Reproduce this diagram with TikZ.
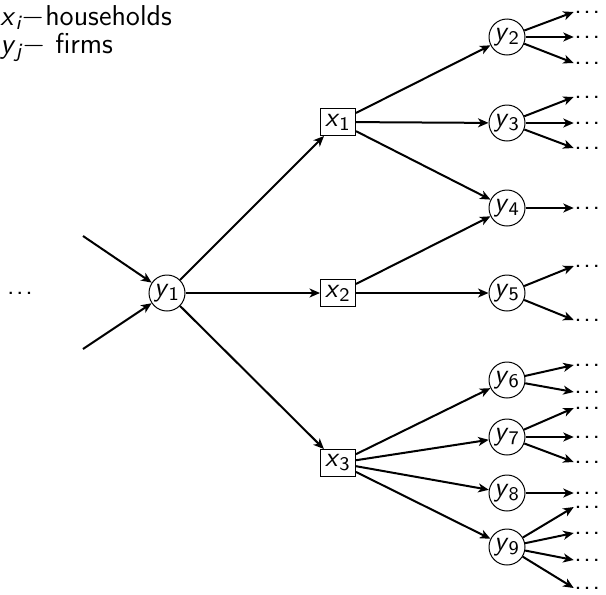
\documentclass[tikz,border=0pt]{standalone}
\usepackage{amsmath}
\usepackage{fontspec}
\usetikzlibrary{arrows.meta}

% variable with subscript, in sans oblique
\newcommand\svar[2]{\textsl{#1}$_{\text{#2}}$}
% three spaced dots
\newcommand\spdots{.\kern0.7pt.\kern0.7pt.}

\begin{document}
\begin{tikzpicture}[x=0.4pt,y=-0.4pt,
  font=\sffamily\fontsize{11}{13}\selectfont,
  firm/.style={circle, draw, line width=0.4pt, minimum size=14.4pt, inner sep=0pt},
  house/.style={rectangle, draw, line width=0.4pt, minimum width=14pt, minimum height=10.8pt, inner sep=0pt},
  flow/.style={-{Stealth[length=4.2pt,width=3.6pt,inset=1.2pt]}, line width=0.8pt},
  more/.style={anchor=west, inner sep=0pt, xshift=4.3pt},
  legend/.style={anchor=base west, inner sep=0pt, font=\sffamily\fontsize{11.5}{13}\selectfont}]
\useasboundingbox (0,0) rectangle (606,594);

% legend
\node[legend] (l1) at (0,25) {\svar{x}{\slshape i}$-$households};
\node[legend] (l2) at (0,53) {\svar{y}{\slshape j}$-$ firms};

% firms and households
\node[firm]  (y1) at (167,293) {\svar{y}{1}};
\node[house] (x1) at (338,122) {\svar{x}{1}};
\node[house] (x2) at (338,293) {\svar{x}{2}};
\node[house] (x3) at (338,463) {\svar{x}{3}};
\node[firm]  (y2) at (507,37)  {\svar{y}{2}};
\node[firm]  (y3) at (507,123) {\svar{y}{3}};
\node[firm]  (y4) at (507,208) {\svar{y}{4}};
\node[firm]  (y5) at (507,293) {\svar{y}{5}};
\node[firm]  (y6) at (507,380) {\svar{y}{6}};
\node[firm]  (y7) at (507,437) {\svar{y}{7}};
\node[firm]  (y8) at (507,493) {\svar{y}{8}};
\node[firm]  (y9) at (507,547) {\svar{y}{9}};

% incoming flows on the left
\node[inner sep=0pt] (dl) at (20,293) {\spdots};
\coordinate (in1) at (83,236);
\coordinate (in2) at (83,349);
\draw[flow] (in1) -- (y1);
\draw[flow] (in2) -- (y1);

% first layer
\draw[flow] (y1) -- (x1);
\draw[flow] (y1) -- (x2);
\draw[flow] (y1) -- (x3);

% second layer
\draw[flow] (x1) -- (y2);
\draw[flow] (x1) -- (y3);
\draw[flow] (x1) -- (y4);
\draw[flow] (x2) -- (y4);
\draw[flow] (x2) -- (y5);
\draw[flow] (x3) -- (y6);
\draw[flow] (x3) -- (y7);
\draw[flow] (x3) -- (y8);
\draw[flow] (x3) -- (y9);

% continuation dots on the right
\foreach \n/\f/\yy in {a/y2/12, b/y2/37, c/y2/63,
                      d/y3/97, e/y3/123, f/y3/148,
                      g/y4/208,
                      h/y5/266, i/y5/320,
                      j/y6/365, k/y6/392,
                      l/y7/408, m/y7/437, n/y7/462,
                      o/y8/493,
                      p/y9/507, q/y9/533, r/y9/560, s/y9/588}{
  \node[more] (d\n) at (563,\yy) {\spdots};
  \draw[flow] (\f) -- (d\n.west);
}
\end{tikzpicture}
\end{document}
